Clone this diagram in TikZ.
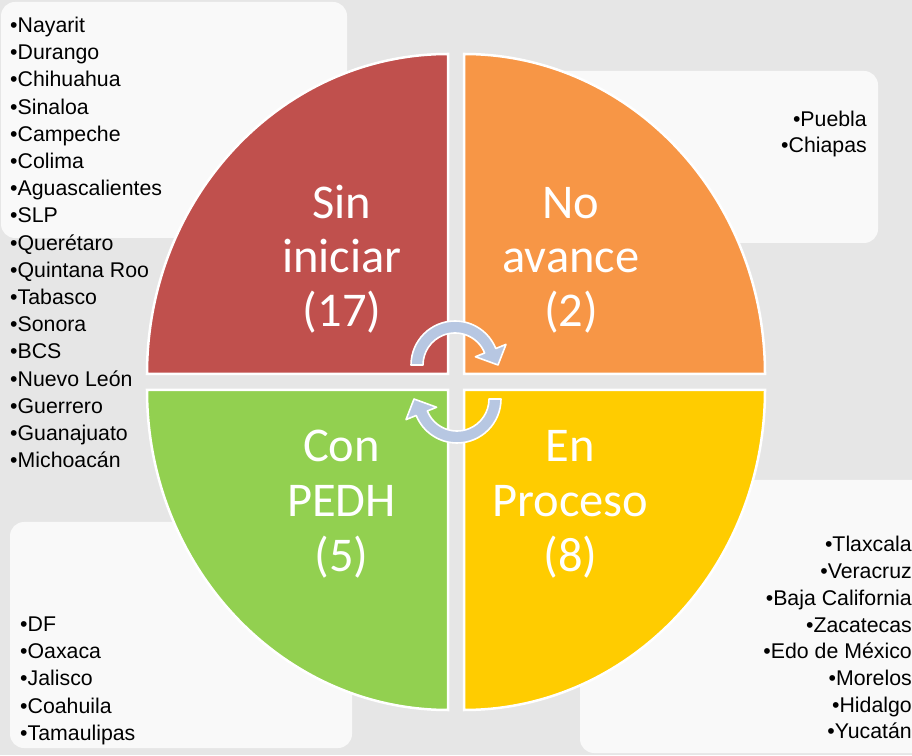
\documentclass[tikz,border=0pt]{standalone}
\usepackage{fontspec}
\setmainfont{Liberation Sans}
\newfontfamily\calfont{Carlito}
\definecolor{bgc}{RGB}{230,230,230}
\definecolor{boxc}{RGB}{249,249,249}
\definecolor{redq}{RGB}{192,80,77}
\definecolor{orangeq}{RGB}{247,150,70}
\definecolor{greenq}{RGB}{146,208,80}
\definecolor{yellowq}{RGB}{255,204,0}
\definecolor{arrowc}{RGB}{183,199,226}
\begin{document}
\begin{tikzpicture}[x=1pt,y=1pt,
  listbox/.style={fill=boxc, rounded corners=14pt},
  quad/.style={draw=white, line width=2.5pt},
  cyc/.style={fill=arrowc, draw=white, line width=1.6pt, line join=round},
  litem/.style={font=\fontsize{21.3}{27}\selectfont, text=black, inner sep=0pt},
  qlabel/.style={font=\calfont\fontsize{48.5}{54}\selectfont, text=white, inner sep=0pt, anchor=base}]
\useasboundingbox (0,0) rectangle (912,755);
\clip (0,0) rectangle (912,755);
\fill[bgc] (0,0) rectangle (912,755);
% list boxes
\fill[listbox] (1,517) rectangle (347,753);
\fill[listbox] (470,512) rectangle (878,684);
\fill[listbox] (10,7) rectangle (352,233);
\fill[listbox] (580,2) rectangle (940,275);
% quadrants
\path[quad, fill=redq] (448,381) -- (147,381) arc[start angle=180, end angle=90, x radius=301pt, y radius=320pt] -- cycle;
\path[quad, fill=orangeq] (464,381) -- (464,701) arc[start angle=90, end angle=0, x radius=301pt, y radius=320pt] -- cycle;
\path[quad, fill=greenq] (448,365) -- (147,365) arc[start angle=180, end angle=270, x radius=301pt, y radius=320pt] -- cycle;
\path[quad, fill=yellowq] (464,365) -- (765,365) arc[start angle=0, end angle=-90, x radius=301pt, y radius=320pt] -- cycle;
% cycle arrows
\coordinate (U) at (455,390);
\coordinate (L) at (457,356);
\path[cyc] ([shift={(180:44pt)}]U) arc[start angle=180, end angle=22, radius=44pt]
  -- ([shift={(22:55pt)}]U) -- ([shift={(0:43pt)}]U) -- ([shift={(22:22pt)}]U)
  -- ([shift={(22:32pt)}]U) arc[start angle=22, end angle=180, radius=32pt] -- cycle;
\path[cyc] ([shift={(0:44pt)}]L) arc[start angle=0, end angle=-158, radius=44pt]
  -- ([shift={(-158:55pt)}]L) -- ([shift={(180:43pt)}]L) -- ([shift={(-158:22pt)}]L)
  -- ([shift={(-158:32pt)}]L) arc[start angle=-158, end angle=0, radius=32pt] -- cycle;
% quadrant labels
\node[qlabel] (r1) at (342,536) {Sin};
\node[qlabel] (r2) at (342,482) {iniciar};
\node[qlabel] (r3) at (342,428) {(17)};
\node[qlabel] (o1) at (571,536) {No};
\node[qlabel] (o2) at (571,482) {avance};
\node[qlabel] (o3) at (571,428) {(2)};
\node[qlabel] (g1) at (341.5,293) {Con};
\node[qlabel] (g2) at (341.5,238) {PEDH};
\node[qlabel] (g3) at (341.5,183) {(5)};
\node[qlabel] (y1) at (570.5,293) {En};
\node[qlabel] (y2) at (570.5,238) {Proceso};
\node[qlabel] (y3) at (570.5,183) {(8)};
% lists
\foreach [count=\i] \t in {Nayarit,Durango,Chihuahua,Sinaloa,Campeche,Colima,Aguascalientes,SLP,Querétaro,Quintana Roo,Tabasco,Sonora,BCS,Nuevo León,Guerrero,Guanajuato,Michoacán}
  \node[litem, anchor=base west] (tl\i) at (10,{722.5-27.2*(\i-1)}) {•\t};
\node[litem, anchor=base east] (tr1) at (867,628) {•Puebla};
\node[litem, anchor=base east] (tr2) at (867,602) {•Chiapas};
\foreach [count=\i] \t in {DF,Oaxaca,Jalisco,Coahuila,Tamaulipas}
  \node[litem, anchor=base west] (bl\i) at (20,{124-27.4*(\i-1)}) {•\t};
\foreach [count=\i] \t in {Tlaxcala,Veracruz,Baja California,Zacatecas,Edo de México,Morelos,Hidalgo,Yucatán}
  \node[litem, anchor=base east] (br\i) at (912,{203-26.7*(\i-1)}) {•\t};
\end{tikzpicture}
\end{document}
